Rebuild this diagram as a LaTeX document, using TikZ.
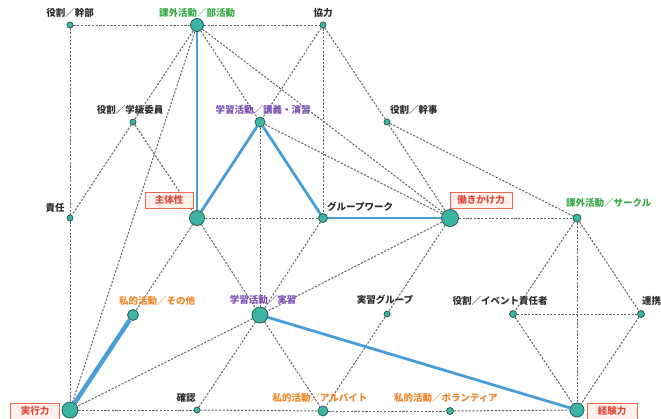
\documentclass[tikz,border=0pt]{standalone}
\usepackage{fontspec}
\newfontfamily\jp{Noto Sans CJK JP}
\usetikzlibrary{backgrounds}
\definecolor{nodefill}{HTML}{3DB3A3}
\definecolor{nodeline}{HTML}{2A5E58}
\definecolor{dgrey}{HTML}{666666}
\definecolor{hl}{HTML}{4A9ED8}
\definecolor{txtdark}{HTML}{2E2E2E}
\definecolor{tgreen}{HTML}{3AAA4A}
\definecolor{tpurple}{HTML}{7B52B5}
\definecolor{torange}{HTML}{F0872A}
\definecolor{boxred}{HTML}{E86A50}
\definecolor{boxfill}{HTML}{FFF0EC}
\definecolor{boxtext}{HTML}{E04A3A}
\begin{document}
\begin{tikzpicture}[x=1pt,y=-1pt,
  dot/.style={circle,fill=nodefill,draw=nodeline,line width=0.8pt,inner sep=0pt,minimum size=#1},
  dline/.style={draw=dgrey,line width=1pt,dash pattern=on 2.2pt off 1.5pt},
  hline/.style={draw=hl,line width=2.8pt},
  lbl/.style={font=\jp\bfseries\fontsize{9.5}{10}\selectfont,inner sep=0pt,text=txtdark},
  redbox/.style={draw=boxred,fill=boxfill,text=boxtext,line width=1pt,inner sep=0pt,
    minimum height=16pt,minimum width=#1,font=\jp\bfseries\fontsize{9.5}{10}\selectfont}
]
\useasboundingbox (0,0) rectangle (661,418);
% nodes
\node[dot=6pt]  (kanbu)   at (70,25)  {};
\node[dot=13pt] (bukatsu) at (197,25) {};
\node[dot=6pt]  (kyoryoku) at (323,25) {};
\node[dot=6pt]  (gakkyu)  at (133,122) {};
\node[dot=10pt] (kogi)    at (260,122) {};
\node[dot=6pt]  (kanji)   at (387,122) {};
\node[dot=6pt]  (sekinin) at (70,218) {};
\node[dot=15pt] (shutai)  at (197,218) {};
\node[dot=9pt]  (gw)      at (323,218) {};
\node[dot=17pt] (hataraki) at (450,218) {};
\node[dot=8pt]  (circle)  at (577,218) {};
\node[dot=11pt] (sonota)  at (133,315) {};
\node[dot=16pt] (jisshu)  at (260,315) {};
\node[dot=6pt]  (jgroup)  at (387,314) {};
\node[dot=7pt]  (event)   at (513,314) {};
\node[dot=7pt]  (renkei)  at (641,314) {};
\node[dot=16pt] (jikko)   at (70,410) {};
\node[dot=6pt]  (kakunin) at (197,410) {};
\node[dot=10pt] (arbeit)  at (323,411) {};
\node[dot=7pt]  (volunteer) at (450,411) {};
\node[dot=14pt] (keiken)  at (577,410) {};
% edges
\begin{scope}[on background layer]
\fill[white] (0,0) rectangle (661,418);
\draw[dline] (kanbu) -- (bukatsu);
\draw[dline] (bukatsu) -- (kyoryoku);
\draw[dline] (kanbu) -- (sekinin);
\draw[dline] (sekinin) -- (jikko);
\draw[dline] (bukatsu) -- (gakkyu);
\draw[dline] (bukatsu) -- (jikko);
\draw[dline] (bukatsu) -- (kogi);
\draw[dline] (bukatsu) -- (hataraki);
\draw[dline] (kyoryoku) -- (kogi);
\draw[dline] (kyoryoku) -- (gw);
\draw[dline] (kyoryoku) -- (kanji);
\draw[dline] (kanji) -- (hataraki);
\draw[dline] (kanji) -- (circle);
\draw[dline] (gakkyu) -- (sekinin);
\draw[dline] (gakkyu) -- (shutai);
\draw[dline] (kogi) -- (jisshu);
\draw[dline] (kogi) -- (hataraki);
\draw[dline] (shutai) -- (gw);
\draw[dline] (shutai) -- (sonota);
\draw[dline] (shutai) -- (jisshu);
\draw[dline] (gw) -- (jisshu);
\draw[dline] (hataraki) -- (circle);
\draw[dline] (hataraki) -- (jisshu);
\draw[dline] (hataraki) -- (jgroup);
\draw[dline] (jgroup) -- (arbeit);
\draw[dline] (jisshu) -- (jikko);
\draw[dline] (jisshu) -- (kakunin);
\draw[dline] (jisshu) -- (arbeit);
\draw[dline] (circle) -- (event);
\draw[dline] (circle) -- (keiken);
\draw[dline] (circle) -- (renkei);
\draw[dline] (event) -- (renkei);
\draw[dline] (event) -- (keiken);
\draw[dline] (renkei) -- (keiken);
\draw[dline] (jikko) -- (kakunin);
\draw[dline] (kakunin) -- (arbeit);
\draw[dline] (arbeit) -- (volunteer);
\draw[dline] (volunteer) -- (keiken);
% highlighted
\draw[hline] (bukatsu) -- (shutai);
\draw[hline] (shutai) -- (kogi);
\draw[hline] (kogi) -- (gw);
\draw[hline] (gw) -- (hataraki);
\draw[hline] (jisshu) -- (keiken);
\draw[hline,line width=4.4pt] (sonota) -- (jikko);
\end{scope}
% labels
\node[lbl] (l1) at (70,13) {役割／幹部};
\node[lbl,text=tgreen] (l2) at (197,13) {課外活動／部活動};
\node[lbl] (l3) at (323,13) {協力};
\node[lbl] (l4) at (130,110) {役割／学級委員};
\node[lbl,text=tpurple] (l5) at (263,110) {学習活動／講義・演習};
\node[lbl,anchor=west] (l6) at (390,110) {役割／幹事};
\node[lbl] (l7) at (55,208) {責任};
\node[redbox=48pt] (b1) at (169,200) {主体性};
\node[lbl,anchor=west] (l9) at (327,207) {グループワーク};
\node[redbox=62pt] (b2) at (481,200) {働きかけ力};
\node[lbl,text=tgreen,anchor=west] (l11) at (566,203) {課外活動／サークル};
\node[lbl,text=torange] (l12) at (157,301) {私的活動／その他};
\node[lbl,text=tpurple] (l13) at (263,300) {学習活動／実習};
\node[lbl] (l14) at (385,300) {実習グループ};
\node[lbl] (l15) at (500,301) {役割／イベント責任者};
\node[lbl,anchor=west] (l16) at (642,301) {連携};
\node[redbox=49pt] (b3) at (35,411) {実行力};
\node[lbl] (l18) at (186,398) {確認};
\node[lbl,text=torange] (l19) at (320,398) {私的活動／アルバイト};
\node[lbl,text=torange] (l20) at (446,398) {私的活動／ボランティア};
\node[redbox=50pt] (b4) at (612,411) {経験力};
\end{tikzpicture}
\end{document}
